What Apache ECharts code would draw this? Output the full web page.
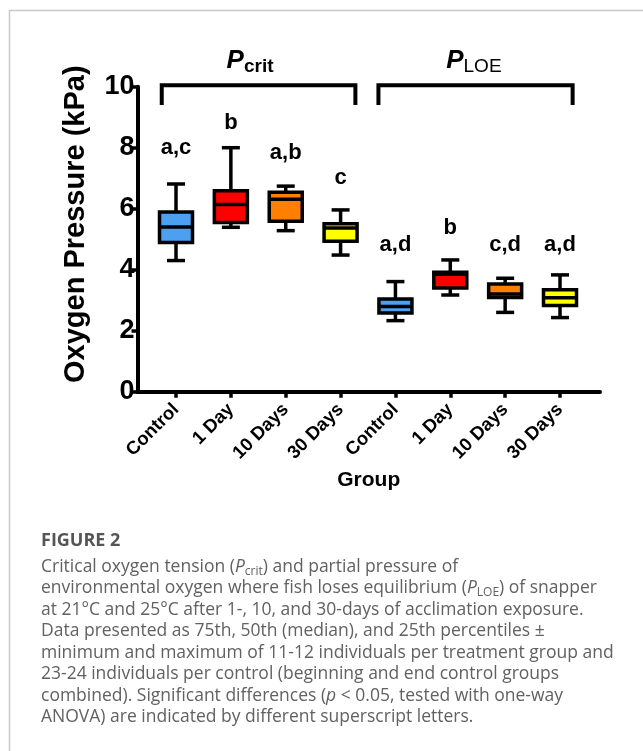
<!DOCTYPE html>
<html>
<head>
<meta charset="utf-8">
<script src="https://cdn.jsdelivr.net/npm/echarts@6.0.0/dist/echarts.min.js"></script>
<style>
  html, body { margin: 0; padding: 0; background: #fff; }
  #chart { width: 643px; height: 751px; }
</style>
</head>
<body>
<div id="chart"></div>
<script>
// groups along the x axis (two panels: Pcrit then PLOE)
const groups = ['Control', '1 Day', '10 Days', '30 Days', 'Control', '1 Day', '10 Days', '30 Days'];
const groupIndex = [0, 1, 2, 3, 4, 5, 6, 7];

// box plot values (kPa)
const boxMin = [4.30, 5.39, 5.28, 4.48, 2.33, 3.17, 2.60, 2.43];
const boxQ1 = [4.89, 5.55, 5.59, 4.93, 2.58, 3.40, 3.09, 2.83];
const boxMedian = [5.40, 6.14, 6.31, 5.37, 2.79, 3.85, 3.20, 3.08];
const boxQ3 = [5.89, 6.59, 6.54, 5.51, 3.04, 3.92, 3.53, 3.34];
const boxMax = [6.81, 8.00, 6.74, 5.96, 3.61, 4.32, 3.72, 3.83];

// significance letters and the height they sit at
const letters = ['a,c', 'b', 'a,b', 'c', 'a,d', 'b', 'c,d', 'a,d'];
const letterY = [7.98, 8.80, 7.82, 7.00, 4.81, 5.36, 4.81, 4.81];

// panel brackets
const bracketNames = ['crit', 'LOE'];
const bracketFrom = [-0.26, 3.69];
const bracketTo = [3.27, 7.23];
const bracketLabelX = [1.35, 5.43];
const bracketTop = 10.05;
const bracketFoot = 9.40;
const bracketLabelY = 10.85;

const yTicks = [0, 2, 4, 6, 8, 10];

const fillColors = ['#4d9ff0', '#ff0000', '#ff8000', '#ffff00', '#4d9ff0', '#ff0000', '#ff8000', '#ffff00'];

const chartFont = '"Liberation Sans", Arial, sans-serif';
const captionFont = '"Open Sans", sans-serif';

const boxData = groupIndex.map((i) => [i, boxMin[i], boxQ1[i], boxMedian[i], boxQ3[i], boxMax[i]]);
const letterData = groupIndex.map((i) => [i, letterY[i], letters[i]]);
const bracketData = bracketNames.map((n, k) => [bracketFrom[k], bracketTo[k], bracketTop, bracketFoot, bracketLabelX[k]]);

const renderBox = (params, api) => {
  const i = api.value(0);
  const pMin = api.coord([i, api.value(1)]);
  const pQ1 = api.coord([i, api.value(2)]);
  const pMed = api.coord([i, api.value(3)]);
  const pQ3 = api.coord([i, api.value(4)]);
  const pMax = api.coord([i, api.value(5)]);
  const x = pMed[0];
  const half = 16.5;
  const capHalf = 9;
  const line = { stroke: '#000', lineWidth: 3.5 };
  return {
    type: 'group',
    children: [
      { type: 'line', shape: { x1: x, y1: pMax[1], x2: x, y2: pQ3[1] }, style: line },
      { type: 'line', shape: { x1: x, y1: pQ1[1], x2: x, y2: pMin[1] }, style: line },
      { type: 'line', shape: { x1: x - capHalf, y1: pMax[1], x2: x + capHalf, y2: pMax[1] }, style: line },
      { type: 'line', shape: { x1: x - capHalf, y1: pMin[1], x2: x + capHalf, y2: pMin[1] }, style: line },
      {
        type: 'rect',
        shape: { x: x - half, y: pQ3[1], width: half * 2, height: pQ1[1] - pQ3[1] },
        style: { fill: fillColors[params.dataIndex], stroke: '#000', lineWidth: 3.5 }
      },
      { type: 'line', shape: { x1: x - half, y1: pMed[1], x2: x + half, y2: pMed[1] }, style: line }
    ]
  };
};

const renderLetter = (params, api) => {
  const p = api.coord([api.value(0), api.value(1)]);
  return {
    type: 'text',
    x: p[0],
    y: p[1],
    style: {
      text: letters[params.dataIndex],
      fontFamily: chartFont,
      fontWeight: 'bold',
      fontSize: 22,
      fill: '#000',
      align: 'center',
      verticalAlign: 'middle'
    }
  };
};

const renderBracket = (params, api) => {
  const a = api.coord([api.value(0), api.value(2)]);
  const b = api.coord([api.value(1), api.value(2)]);
  const foot = api.coord([api.value(0), api.value(3)]);
  const lab = api.coord([api.value(4), bracketLabelY]);
  const name = bracketNames[params.dataIndex];
  const subWeight = name === 'crit' ? 'bold' : 'normal';
  return {
    type: 'group',
    children: [
      {
        type: 'polyline',
        shape: { points: [[a[0], foot[1]], [a[0], a[1]], [b[0], b[1]], [b[0], foot[1]]] },
        style: { stroke: '#000', lineWidth: 4, fill: null }
      },
      {
        type: 'text',
        x: lab[0],
        y: lab[1],
        style: {
          text: '{p|P}{s|' + name + '}',
          align: 'center',
          verticalAlign: 'middle',
          rich: {
            p: { fontFamily: chartFont, fontStyle: 'italic', fontWeight: 'bold', fontSize: 26, lineHeight: 30, fill: '#000' },
            s: { fontFamily: chartFont, fontWeight: subWeight, fontSize: 19, lineHeight: 19, verticalAlign: 'bottom', fill: '#000' }
          }
        }
      }
    ]
  };
};

const captionLines = [
  'Critical oxygen tension ({i|P}{s|crit}) and partial pressure of',
  'environmental oxygen where fish loses equilibrium ({i|P}{s|LOE}) of snapper',
  'at 21°C and 25°C after 1-, 10, and 30-days of acclimation exposure.',
  'Data presented as 75th, 50th (median), and 25th percentiles ±',
  'minimum and maximum of 11-12 individuals per treatment group and',
  '23-24 individuals per control (beginning and end control groups',
  'combined). Significant differences ({i|p} < 0.05, tested with one-way',
  'ANOVA) are indicated by different superscript letters.'
];

const chart = echarts.init(document.getElementById('chart'), null, { renderer: 'canvas' });

chart.setOption({
  backgroundColor: '#fff',
  animation: false,
  grid: { left: 137.5, right: 43, top: 86.7, bottom: 359.3 },
  xAxis: {
    type: 'value',
    min: -0.702,
    max: 7.729,
    name: 'Group',
    nameLocation: 'middle',
    nameGap: 78,
    nameTextStyle: { fontFamily: chartFont, fontWeight: 'bold', fontSize: 21, color: '#000' },
    splitLine: { show: false },
    axisLine: { show: true, onZero: false, lineStyle: { color: '#000', width: 4 } },
    axisTick: { show: true, customValues: groupIndex, length: 6, lineStyle: { color: '#000', width: 3.5 } },
    axisLabel: {
      customValues: groupIndex,
      rotate: 45,
      margin: 15,
      fontFamily: chartFont,
      fontWeight: 'bold',
      fontSize: 18.5,
      color: '#000',
      formatter: (v) => groups[Math.round(v)]
    }
  },
  yAxis: {
    type: 'value',
    min: 0,
    max: 10,
    interval: 2,
    name: 'Oxygen Pressure (kPa)',
    nameLocation: 'middle',
    nameGap: 47,
    nameTextStyle: { fontFamily: chartFont, fontWeight: 'bold', fontSize: 29, color: '#000', padding: [0, 0, 0, 30] },
    splitLine: { show: false },
    axisLine: { show: true, onZero: false, lineStyle: { color: '#000', width: 4 } },
    axisTick: { show: true, length: 6, lineStyle: { color: '#000', width: 3.5 } },
    axisLabel: {
      margin: 3,
      fontFamily: chartFont,
      fontWeight: 'bold',
      fontSize: 27,
      color: '#000',
      customValues: yTicks
    }
  },
  series: [
    {
      type: 'custom',
      name: 'boxes',
      renderItem: renderBox,
      data: boxData,
      encode: { x: 0, y: [1, 2, 3, 4, 5] },
      clip: false,
      z: 3
    },
    {
      type: 'custom',
      name: 'letters',
      renderItem: renderLetter,
      data: letterData,
      encode: { x: 0, y: 1 },
      clip: false,
      z: 4
    },
    {
      type: 'custom',
      name: 'brackets',
      renderItem: renderBracket,
      data: bracketData,
      encode: { x: [0, 1], y: [2, 3] },
      clip: false,
      z: 4
    }
  ],
  graphic: [
    {
      type: 'polyline',
      shape: { points: [[9.5, 751], [9.5, 10.5], [643, 10.5]] },
      style: { stroke: '#c9c9c9', lineWidth: 1.5, fill: null },
      silent: true
    },
    {
      type: 'text',
      left: 41,
      top: 532,
      style: {
        text: 'FIGURE 2',
        fontFamily: captionFont,
        fontWeight: 'bold',
        fontSize: 18,
        fill: '#555'
      }
    },
    {
      type: 'text',
      left: 41,
      top: 556,
      style: {
        text: captionLines.join('\n'),
        fontFamily: captionFont,
        fontSize: 17.5,
        lineHeight: 21.5,
        fill: '#616161',
        rich: {
          i: { fontFamily: captionFont, fontStyle: 'italic', fontSize: 17.5, lineHeight: 21.5, fill: '#616161' },
          s: { fontFamily: captionFont, fontSize: 12, lineHeight: 13, verticalAlign: 'bottom', fill: '#616161' }
        }
      }
    }
  ]
});
</script>
</body>
</html>
